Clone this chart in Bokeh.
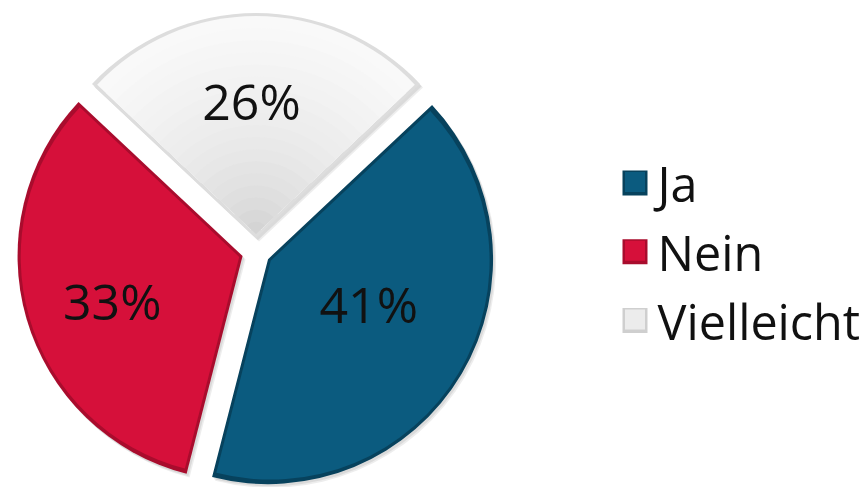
import numpy as np
from bokeh.plotting import figure
from bokeh.models import Range1d
from bokeh.embed import file_html
from bokeh.resources import INLINE
from bokeh.core.properties import value

# ---- data ----
categories = ["Ja", "Nein", "Vielleicht"]
shares = [41, 33, 26]
labels = ["41%", "33%", "26%"]

# ---- style ----
colors = ["#0b5b7f", "#d6103a", "#f8f8f8"]
rim_colors = ["#07425d", "#a90c2d", "#dddddd"]
FONT = "Open Sans"

W, H = 864, 487
p = figure(width=W, height=H, output_backend="svg", toolbar_location=None,
           x_range=Range1d(0, W), y_range=Range1d(0, H), min_border=0,
           x_axis_location=None, y_axis_location=None)
p.grid.visible = False
p.outline_line_color = None
p.background_fill_color = "white"
p.border_fill_color = "white"

# page coords -> data coords helpers (1 data unit == 1 px)
def dx(px):
    return px
def dy(py):
    return H - py

CX, CY = dx(255.5), dy(251.5)
R = 225.0
EXPLODE = 14.0
INSET = 3.0

vals = np.array(shares, dtype=float)
frac = vals / vals.sum()
theta0 = np.pi / 2 - np.pi * frac[-1]          # last slice centred at top
ends = theta0 - 2 * np.pi * np.concatenate([[0], np.cumsum(frac)[:-1]])
starts = ends - 2 * np.pi * frac
mids = (starts + ends) / 2
half = np.pi * frac

ox = CX + EXPLODE * np.cos(mids)
oy = CY + EXPLODE * np.sin(mids)

# soft shadow
for off, a in [(3.0, 0.07), (1.8, 0.08)]:
    p.wedge(x=ox + off, y=oy - off * 1.2, radius=R, start_angle=starts, end_angle=ends,
            fill_color="black", fill_alpha=a, line_color=None)

# rim (full wedge)
p.wedge(x=ox, y=oy, radius=R, start_angle=starts, end_angle=ends,
        fill_color=rim_colors, line_color=None)

# inner (inset) wedge
s = INSET / np.sin(half)
ix = ox + s * np.cos(mids)
iy = oy + s * np.sin(mids)
ir = R - INSET - s
for i in range(len(vals)):
    if i == len(vals) - 1:
        # light slice: radial gradient towards the tip
        N = 18
        for k in range(N):
            f = 1 - k / N
            g = int(round(200 + 49 * np.sqrt(f)))
            col = "#%02x%02x%02x" % (g, g, g)
            p.wedge(x=ix[i], y=iy[i], radius=ir[i] * f, start_angle=starts[i], end_angle=ends[i],
                    fill_color=col, line_color=None)
    else:
        p.wedge(x=ix[i], y=iy[i], radius=ir[i], start_angle=starts[i], end_angle=ends[i],
                fill_color=colors[i], line_color=None)

# value labels
label_radius = np.array([124.0, 152.0, 151.0])
label_nudge = np.radians([6.0, 2.8, 1.7])
la = mids + label_nudge
lx = CX + label_radius * np.cos(la)
ly = CY + label_radius * np.sin(la)
LFS = 50
p.text(x=lx, y=ly, text=labels, text_font=value(FONT),
       text_font_size="%dpx" % LFS, text_align="center", text_baseline="middle",
       text_color="#111111")

# legend
LEG_X = dx(634.5)
LEG_Y0 = dy(182.5)
LEG_STEP = 68.75
SQ = 25
TFS = 48.5
ly_leg = LEG_Y0 - LEG_STEP * np.arange(len(categories))
p.rect(x=[LEG_X] * len(categories), y=ly_leg, width=SQ, height=SQ,
       fill_color=rim_colors[:2] + ["#cfcfcf"], line_color=None)
p.rect(x=[LEG_X] * len(categories), y=ly_leg + 1, width=SQ - 5, height=SQ - 5,
       fill_color=[colors[0], colors[1], "#ececec"], line_color=None)
p.text(x=[dx(657)] * len(categories), y=ly_leg, text=categories,
       text_font=value(FONT), text_font_size="%.1fpx" % TFS, text_align="left",
       text_baseline="middle", text_color="#111111")

open("out.html", "w").write(file_html(p, INLINE))
